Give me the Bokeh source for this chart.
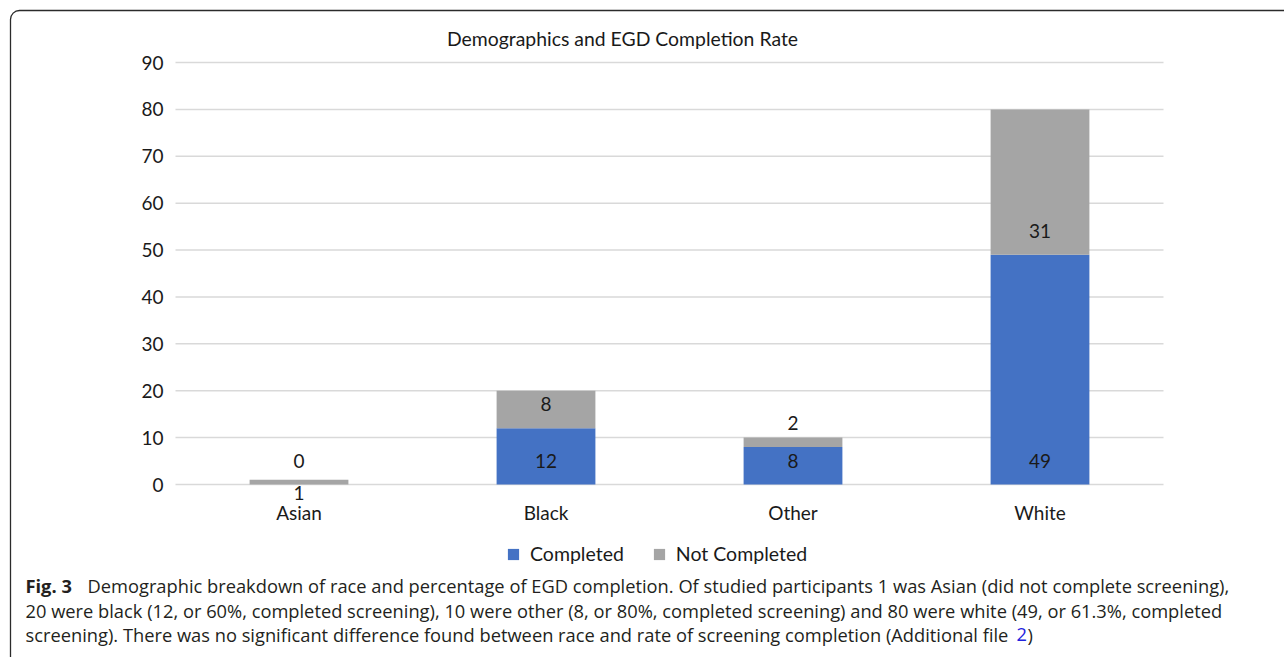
from bokeh.plotting import figure
from bokeh.models import ColumnDataSource, Label, BoxAnnotation, Legend, LegendItem, Range1d
from bokeh.core.properties import value
from bokeh.embed import file_html
from bokeh.resources import INLINE

categories = ["Asian", "Black", "Other", "White"]
completed = [0, 12, 8, 49]
not_completed = [1, 8, 2, 31]
series_names = ["Completed", "Not Completed"]
colors = ["#4472C4", "#A5A5A5"]
y_ticks = [0, 10, 20, 30, 40, 50, 60, 70, 80, 90]
title_text = "Demographics and EGD Completion Rate"
caption_bold = "Fig. 3"
caption_lines = [
    "Demographic breakdown of race and percentage of EGD completion. Of studied participants 1 was Asian (did not complete screening),",
    "20 were black (12, or 60%, completed screening), 10 were other (8, or 80%, completed screening) and 80 were white (49, or 61.3%, completed",
    "screening). There was no significant difference found between race and rate of screening completion (Additional file ",
]
caption_link = "2"

W, H = 1284, 657
# plot area in canvas pixels
FL, FR, FT, FB = 175, 1163, 62, 484
FONT = "Lato"
TXT = "#1a1a1a"
n = len(categories)
ymax = y_ticks[-1]
ppu_y = (FB - FT) / ymax
ppu_x = (FR - FL) / n
x_start = -0.5 - FL / ppu_x
x_end = n - 0.5 + (W - FR) / ppu_x
y_start = -(H - FB) / ppu_y
y_end = ymax + FT / ppu_y

p = figure(width=W, height=H, x_range=Range1d(x_start, x_end), y_range=Range1d(y_start, y_end),
           output_backend="svg", toolbar_location=None, min_border=0,
           x_axis_location=None, y_axis_location=None)
p.outline_line_color = None
p.grid.visible = False
p.background_fill_color = "white"
p.border_fill_color = "white"

xs = list(range(n))

# gridlines and value axis labels
gsrc = ColumnDataSource(dict(y=y_ticks, x0=[-0.5] * len(y_ticks), x1=[n - 0.5] * len(y_ticks),
                             t=[str(v) for v in y_ticks]))
p.segment(x0="x0", y0="y", x1="x1", y1="y", source=gsrc, line_color="#d9d9d9", line_width=1.5)
p.text(x="x0", y="y", text="t", source=gsrc, x_offset=-12, text_align="right",
       text_baseline="middle", text_font=value(FONT), text_font_size="19px", text_color=TXT)

# category labels
csrc = ColumnDataSource(dict(x=xs, y=[0] * n, t=categories))
p.text(x="x", y="y", text="t", source=csrc, y_offset=28, text_align="center",
       text_baseline="middle", text_font=value(FONT), text_font_size="19px", text_color=TXT)

tops_nc = [c + k for c, k in zip(completed, not_completed)]
src = ColumnDataSource(dict(x=xs, c=completed, nb=completed, nt=tops_nc, zero=[0] * n))
r1 = p.vbar(x="x", bottom="zero", top="c", width=0.4, source=src,
            fill_color=colors[0], line_color=None)
r2 = p.vbar(x="x", bottom="nb", top="nt", width=0.4, source=src,
            fill_color=colors[1], line_color=None)

# data labels (inside base)
lab_x, lab_y, lab_t, lab_off = [], [], [], []
for i in range(n):
    lab_x.append(i); lab_y.append(0); lab_t.append(str(completed[i])); lab_off.append(-24)
    small = not_completed[i] <= 1
    lab_x.append(i); lab_y.append(completed[i]); lab_t.append(str(not_completed[i]))
    lab_off.append(8 if small else -24)
lsrc = ColumnDataSource(dict(x=lab_x, y=lab_y, t=lab_t, off=lab_off))
p.text(x="x", y="y", text="t", y_offset="off", source=lsrc,
       text_align="center", text_baseline="middle", text_font_size="19px",
       text_font=value(FONT), text_color=TXT)

# title
p.add_layout(Label(x=622, y=H - 38, x_units="screen", y_units="screen", text=title_text,
                   text_align="center", text_baseline="middle", text_font=FONT,
                   text_font_size="19.4px", text_color=TXT))

# legend
legend = Legend(items=[LegendItem(label=series_names[0], renderers=[r1]),
                       LegendItem(label=series_names[1], renderers=[r2])],
                orientation="horizontal", location=(506, H - 565),
                label_text_font=FONT, label_text_font_size="19.5px", label_text_color=TXT,
                glyph_width=14, glyph_height=14, spacing=28, label_standoff=10,
                background_fill_alpha=0, border_line_color=None, padding=0, margin=0)
p.add_layout(legend, "center")

# outer frame
p.add_layout(BoxAnnotation(left=10, right=W + 20, top=H - 10, bottom=-20,
                           left_units="screen", right_units="screen",
                           top_units="screen", bottom_units="screen",
                           fill_color=None, fill_alpha=0, line_color="#2b2b2b", line_alpha=1,
                           line_width=1.3, border_radius=9, level="underlay"))

# caption
CAP_FONT = "Open Sans"
CAP_SIZE = "18.3px"
CAP_COL = "#231f20"
ys = [585, 610, 634]
def cap(x, y, text, **kw):
    p.add_layout(Label(x=x, y=H - y, x_units="screen", y_units="screen", text=text,
                       text_baseline="middle", text_font=CAP_FONT, text_font_size=CAP_SIZE,
                       text_color=kw.pop("color", CAP_COL), **kw))
cap(25, ys[0], caption_bold, text_font_style="bold")
cap(87, ys[0], caption_lines[0])
cap(25, ys[1], caption_lines[1])
cap(25, ys[2], caption_lines[2])
cap(1016, ys[2], caption_link, color="#2222dd")
cap(1027, ys[2], ")")

open("out.html", "w").write(file_html(p, INLINE))
